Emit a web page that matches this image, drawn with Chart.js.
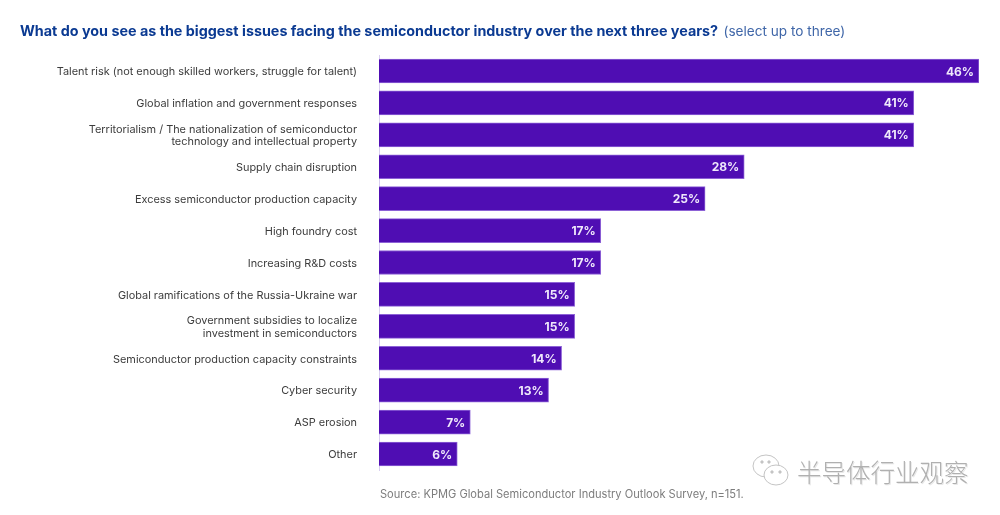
<!DOCTYPE html>
<html>
<head>
<meta charset="utf-8">
<script src="https://cdn.jsdelivr.net/npm/chart.js@4"></script>
<style>
  html, body { margin: 0; padding: 0; background: #fff; width: 1000px; height: 515px; overflow: hidden; }
  #wrap { position: relative; width: 1000px; height: 515px; }
  #title { position: absolute; left: 20px; top: 22px; font: 700 14.33px Inter, sans-serif; color: #0b3a92; white-space: nowrap; }
  #title span { font-weight: 400; color: #3f66a8; font-size: 13.6px; margin-left: 2px; }
  #source { position: absolute; left: 380px; top: 487px; font: 400 11.1px Inter, sans-serif; color: #7d7d7d; white-space: nowrap; }
  #mark { position: absolute; left: 797px; top: 454px; font: 300 24.5px "Noto Sans CJK SC", sans-serif; color: #b0b0b0; white-space: nowrap; text-shadow: 1px 1px 0 #e8e8e8; }
  #logo { position: absolute; left: 751px; top: 452px; }
</style>
</head>
<body>
<div id="wrap">
  <canvas id="issuesChart" width="1000" height="515"></canvas>
  <div id="title">What do you see as the biggest issues facing the semiconductor industry over the next three years? <span>(select up to three)</span></div>
  <div id="source">Source: KPMG Global Semiconductor Industry Outlook Survey, n=151.</div>
  <svg id="logo" width="40" height="38" viewBox="0 0 40 38" fill="#fff" stroke="#c4c4c4" stroke-width="1">
    <ellipse cx="15" cy="14" rx="13" ry="11"/>
    <ellipse cx="25" cy="23" rx="12" ry="10"/>
    <circle cx="11" cy="10" r="1.2" fill="#c4c4c4"/>
    <circle cx="18" cy="10" r="1.2" fill="#c4c4c4"/>
    <circle cx="21" cy="20" r="1.2" fill="#c4c4c4"/>
    <circle cx="29" cy="20" r="1.2" fill="#c4c4c4"/>
  </svg>
  <div id="mark">半导体行业观察</div>
</div>
<script>
const categories = [
  "Talent risk (not enough skilled workers, struggle for talent)",
  "Global inflation and government responses",
  ["Territorialism / The nationalization of semiconductor", "technology and intellectual property"],
  "Supply chain disruption",
  "Excess semiconductor production capacity",
  "High foundry cost",
  "Increasing R&D costs",
  "Global ramifications of the Russia-Ukraine war",
  ["Government subsidies to localize", "investment in semiconductors"],
  "Semiconductor production capacity constraints",
  "Cyber security",
  "ASP erosion",
  "Other"
]
const values = [46, 41, 41, 28, 25, 17, 17, 15, 15, 14, 13, 7, 6]

// white percent text inside the end of each bar
const barLabels = {
  id: "barLabels",
  afterDatasetsDraw(chart) {
    const ctx = chart.ctx
    ctx.save()
    ctx.font = "700 12px Inter, sans-serif"
    ctx.fillStyle = "#efe8fb"
    ctx.textAlign = "right"
    ctx.textBaseline = "middle"
    chart.getDatasetMeta(0).data.forEach((bar, i) => {
      ctx.fillText(values[i] + "%", bar.x - 5, bar.y + 1)
    })
    ctx.restore()
  }
}

new Chart(document.getElementById("issuesChart"), {
  type: "bar",
  data: {
    labels: categories,
    datasets: [{
      data: values,
      backgroundColor: "#4f0db3",
      borderColor: "#8d62d6",
      borderWidth: 1,
      barThickness: 24
    }]
  },
  options: {
    indexAxis: "y",
    responsive: false,
    animation: false,
    layout: { padding: { top: 55, bottom: 45, right: 21, left: 0 } },
    plugins: { legend: { display: false }, tooltip: { enabled: false } },
    scales: {
      x: { display: false, min: 0, max: 46 },
      y: {
        afterFit(scale) { scale.width = 379 },
        grid: { display: false, drawTicks: false },
        border: { color: "#d9cff0", width: 1 },
        ticks: {
          color: "#3c3c3c",
          padding: 22,
          labelOffset: 1,
          font: { family: "Inter, sans-serif", size: 10.9, lineHeight: 1.15 },
          autoSkip: false
        }
      }
    }
  },
  plugins: [barLabels]
})
</script>
</body>
</html>
